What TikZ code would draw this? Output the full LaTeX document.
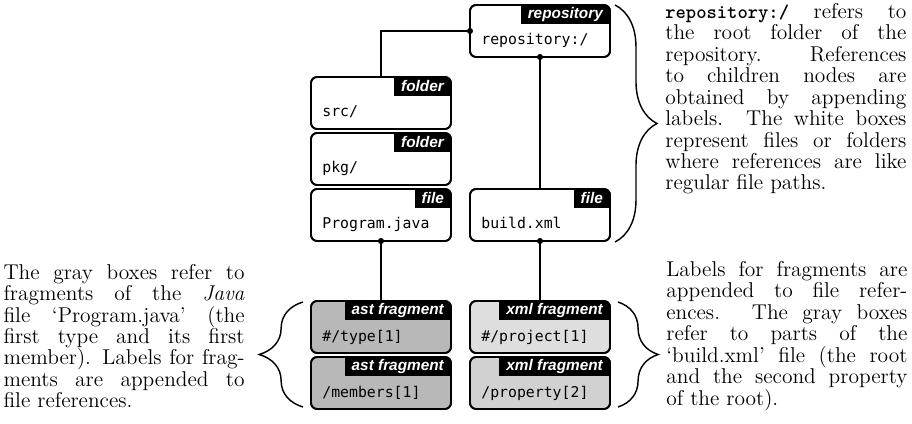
\documentclass[tikz,border=0pt]{standalone}
\usepackage{fontspec}
\newfontfamily\tabfnt{Liberation Sans}
\newfontfamily\monofnt{DejaVu Sans Mono}
\newfontfamily\ttboldfnt{lmmonolt10-bold.otf}
\usetikzlibrary{calc,decorations.pathreplacing}
\definecolor{astgray}{gray}{0.72}
\definecolor{xmlgrayA}{gray}{0.87}
\definecolor{xmlgrayB}{gray}{0.82}
\newcommand\rbox[6]{%
  \node[boxbase, fill=#4, anchor=north west] (#1) at (#2,#3) {};
  \begin{scope}
    \clip[rounded corners=3.4pt] (#1.south west) rectangle (#1.north east);
    \node[tabstyle, anchor=north east] (#1-tab) at (#1.north east) {#5\hspace{5pt}};
  \end{scope}
  \draw[boxline] (#1.south west) rectangle (#1.north east);
  \node[boxtext, anchor=base west] (#1-txt) at ($(#1.north west)+(11,40)$) {#6};
}
\begin{document}
\begin{tikzpicture}[x=0.56pt,y=-0.56pt,
  boxbase/.style={draw, line width=1pt, rounded corners=3.4pt,
    minimum width=78.4pt, minimum height=29.12pt, inner sep=0pt, outer sep=0pt},
  boxline/.style={line width=1pt, rounded corners=3.4pt},
  tabstyle/.style={fill=black, text=white, inner xsep=4pt, inner ysep=0pt,
    minimum height=10.64pt, outer sep=0pt,
    font=\tabfnt\bfseries\itshape\fontsize{8.6}{10}\selectfont},
  boxtext/.style={inner sep=0pt, font=\monofnt\fontsize{8.3}{10}\selectfont},
  conn/.style={line width=0.75pt},
  dot/.style={fill=black},
  bracestyle/.style={line width=0.8pt, decorate,
    decoration={brace, amplitude=23.5pt}},
  para/.style={inner sep=0pt, text width=135pt, align=justify,
    font=\fontsize{12}{12}\selectfont}
]
\useasboundingbox (0,0) rectangle (912,424);

\rbox{repo}{470}{5}{white}{repository}{repository:/}
\rbox{src}{311}{77}{white}{folder}{src/}
\rbox{pkg}{311}{133}{white}{folder}{pkg/}
\rbox{prog}{311}{189}{white}{file}{Program.java}
\rbox{build}{470}{189}{white}{file}{build.xml}
\rbox{type}{311}{301}{astgray}{ast fragment}{\#/type[1]}
\rbox{members}{311}{357}{astgray}{ast fragment}{/members[1]}
\rbox{project}{470}{301}{xmlgrayA}{xml fragment}{\#/project[1]}
\rbox{property}{470}{357}{xmlgrayB}{xml fragment}{/property[2]}

% connectors
\draw[conn] (repo.west) -| (src.north);
\fill[dot] (repo.west) circle[radius=1.7pt];
\draw[conn] (repo.south) -- (build.north);
\fill[dot] (repo.south) circle[radius=1.7pt];
\draw[conn] (prog.south) -- (type.north);
\fill[dot] (prog.south) circle[radius=1.7pt];
\draw[conn] (build.south) -- (project.north);
\fill[dot] (build.south) circle[radius=1.7pt];

% braces
\draw[bracestyle] ($(repo.north east)+(5,0)$) -- ($(build.south east)+(5,1)$);
\draw[bracestyle, decoration={amplitude=22.5pt}] ($(project.north east)+(8,1)$) -- ($(property.south east)+(8,-2)$);
\draw[bracestyle, decoration={amplitude=24.5pt}] ($(members.south west)+(-8,-2)$) -- ($(type.north west)+(-8,1)$);

% texts
\node[para, anchor=north west] (ptop) at (665,3) {{\ttboldfnt\fontsize{11}{12}\selectfont repository:/} refers to\linebreak
the root folder of the\linebreak
repository. References\linebreak
to children nodes are\linebreak
obtained by appending\linebreak
labels. The white boxes\linebreak
represent files or folders\linebreak
where references are like\linebreak
regular file paths.};

\node[para, anchor=west] (pright) at (666,336) {Labels for fragments are\linebreak
appended to file refer-\linebreak
ences. The gray boxes\linebreak
refer to parts of the\linebreak
‘build.xml’ file (the root\linebreak
and the second property\linebreak
of the root).};

\node[para, anchor=east] (pleft) at (245,336) {The gray boxes refer to\linebreak
fragments of the \emph{Java}\linebreak
file ‘Program.java’ (the\linebreak
first type and its first\linebreak
member). Labels for frag-\linebreak
ments are appended to\linebreak
file references.};
\end{tikzpicture}
\end{document}
